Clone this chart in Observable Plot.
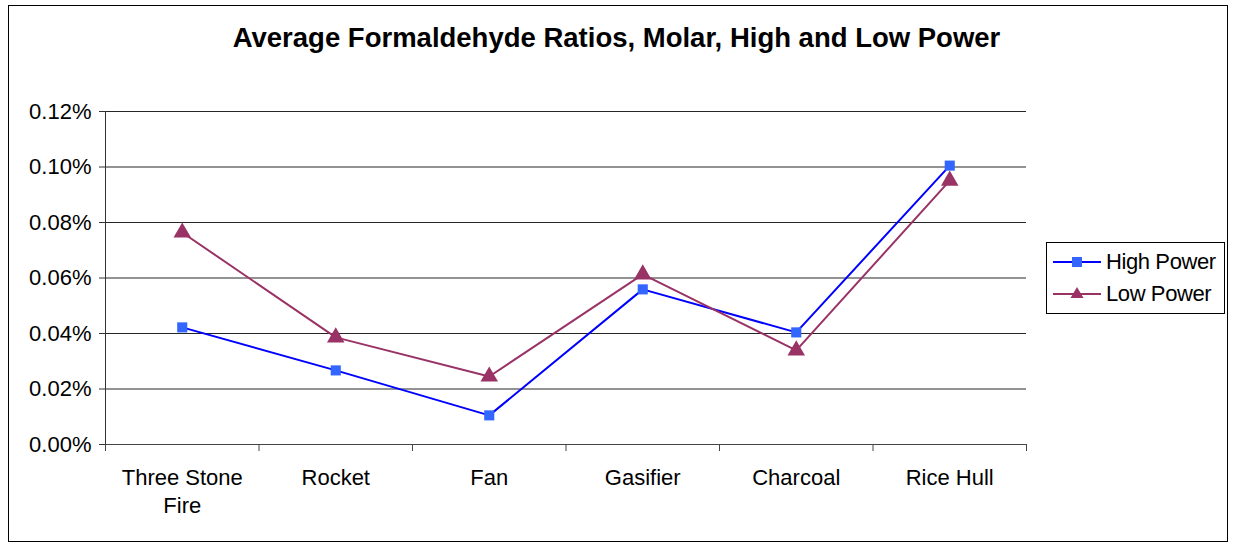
<!DOCTYPE html>
<html>
<head>
<meta charset="utf-8">
<script src="https://cdn.jsdelivr.net/npm/d3@7"></script>
<script src="https://cdn.jsdelivr.net/npm/@observablehq/plot@0.6"></script>
<style>
  html, body { margin: 0; padding: 0; background: #fff; }
  #wrap { position: relative; width: 1233px; height: 546px; font-family: "Liberation Sans", Arial, sans-serif; }
  #border { position: absolute; left: 8px; top: 5px; width: 1220px; height: 537px; border: 1px solid #000; box-sizing: border-box; pointer-events: none; }
  #title { position: absolute; left: 0; width: 1233px; top: 22px; text-align: center; font-weight: bold; font-size: 27.5px; color: #000; letter-spacing: 0px; }
  #legend { position: absolute; left: 1046px; top: 242px; width: 179px; height: 72px; border: 1px solid #000; box-sizing: border-box; background: #fff; }
  .lrow { position: absolute; left: 6px; height: 28px; display: flex; align-items: center; font-size: 22px; color: #000; letter-spacing: -0.4px; }
  .lrow svg { margin-right: 5px; }
</style>
</head>
<body>
<div id="wrap">
  <div id="chart"></div>
  <div id="title">Average Formaldehyde Ratios, Molar, High and Low Power</div>
  <div id="legend"></div>
  <div id="border"></div>
</div>
<script>
const categories = ["Three Stone Fire", "Rocket", "Fan", "Gasifier", "Charcoal", "Rice Hull"];
const highPower = [0.0422, 0.0267, 0.0105, 0.0559, 0.0404, 0.1005];
const lowPower  = [0.0764, 0.0386, 0.0245, 0.0613, 0.0339, 0.0951];
const yTicks = [0, 0.02, 0.04, 0.06, 0.08, 0.10, 0.12];
const seriesNames = ["High Power", "Low Power"];
const lineColors = {"High Power": "#0000FF", "Low Power": "#993366"};
const markerColors = {"High Power": "#3366FF", "Low Power": "#993366"};

const rows = [];
categories.forEach((c, i) => {
  rows.push({cat: c, pos: i + 0.5, series: "High Power", value: highPower[i]});
  rows.push({cat: c, pos: i + 0.5, series: "Low Power", value: lowPower[i]});
});
const high = rows.filter(d => d.series === "High Power");
const low = rows.filter(d => d.series === "Low Power");
const boundaries = d3.range(categories.length + 1);
const centers = categories.map((c, i) => i + 0.5);

const fontFamily = "Liberation Sans, Arial, sans-serif";

const chart = Plot.plot({
  width: 1233,
  height: 546,
  marginLeft: 105,
  marginRight: 207,
  marginTop: 111,
  marginBottom: 102,
  style: {fontFamily, fontSize: "22px", color: "#000", background: "transparent"},
  x: {type: "linear", domain: [0, categories.length], axis: null},
  y: {type: "linear", domain: [0, 0.12], axis: null},
  marks: [
    Plot.gridY(yTicks.slice(1), {stroke: "#000", strokeOpacity: 0.85, strokeWidth: 1}),
    Plot.axisY({ticks: yTicks, tickSize: 6, tickPadding: 8, tickFormat: d => d.toFixed(2) + "%", label: null, stroke: "#333", fontSize: 22, letterSpacing: "-0.4px"}),
    Plot.ruleY([0], {stroke: "#444", strokeWidth: 1}),
    Plot.ruleX([0], {stroke: "#333", strokeWidth: 1}),
    Plot.axisX({ticks: boundaries, tickSize: 7, tickFormat: () => "", label: null, stroke: "#444"}),
    Plot.axisX({ticks: centers, tickSize: 0, tickPadding: 21, label: null, fontSize: 22, letterSpacing: "-0.4px",
      lineHeight: 1.27,
      tickFormat: (d) => categories[Math.floor(d)].replace("Three Stone ", "Three Stone\n")}),
    Plot.line(high, {x: "pos", y: "value", stroke: lineColors["High Power"], strokeWidth: 2}),
    Plot.line(low, {x: "pos", y: "value", stroke: lineColors["Low Power"], strokeWidth: 2}),
    Plot.dot(high, {x: "pos", y: "value", symbol: "square", r: 5.7, fill: markerColors["High Power"], stroke: "none"}),
    Plot.dot(low, {x: "pos", y: "value", symbol: "triangle", r: 6.5, fill: markerColors["Low Power"], stroke: "none"})
  ]
});
document.getElementById("chart").appendChild(chart);

// legend
const legend = document.getElementById("legend");
seriesNames.forEach((s, i) => {
  const row = document.createElement("div");
  row.className = "lrow";
  row.style.top = (5 + i * 32) + "px";
  const shape = s === "High Power"
    ? `<rect x="19" y="8" width="10" height="10" fill="${markerColors[s]}"/>`
    : `<path d="M24 6 L30.5 17 L17.5 17 Z" fill="${markerColors[s]}"/>`;
  row.innerHTML = `<svg width="48" height="26" viewBox="0 0 48 26"><line x1="0" x2="48" y1="13" y2="13" stroke="${lineColors[s]}" stroke-width="2"/>${shape}</svg><span>${s}</span>`;
  legend.appendChild(row);
});
</script>
</body>
</html>
